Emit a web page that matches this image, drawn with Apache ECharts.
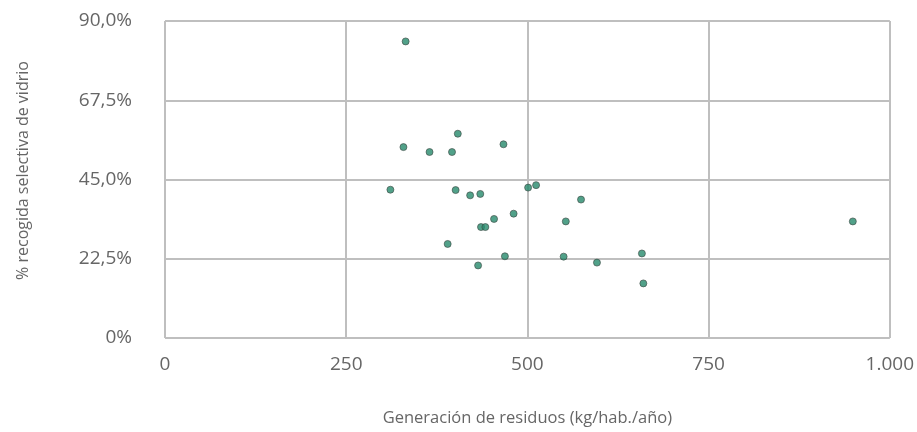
<!DOCTYPE html>
<html>
<head>
<meta charset="utf-8">
<script src="https://cdn.jsdelivr.net/npm/echarts@6/dist/echarts.min.js"></script>
<style>
  html, body { margin: 0; padding: 0; background: #fff; }
  #chart { width: 917px; height: 432px; }
</style>
</head>
<body>
<div id="chart"></div>
<script>
// Generación de residuos (kg/hab./año) por territorio
const residuos = [332, 329, 365, 396, 404, 467, 311, 401, 421, 435, 501, 512, 481, 454, 436, 442, 390, 469, 432, 574, 553, 949, 550, 658, 596, 660];
// % recogida selectiva de vidrio
const vidrio = [84.2, 54.2, 52.8, 52.8, 58.0, 55.0, 42.1, 42.0, 40.5, 40.9, 42.7, 43.4, 35.3, 33.8, 31.5, 31.5, 26.7, 23.2, 20.6, 39.3, 33.1, 33.1, 23.1, 24.0, 21.4, 15.5];

const xTitle = 'Generación de residuos (kg/hab./año)';
const yTitle = '% recogida selectiva de vidrio';

const points = residuos.map((v, i) => [v, vidrio[i]]);

// Spanish number formatting: thousands with '.', decimals with ','
const fmtX = v => v >= 1000 ? Math.floor(v / 1000) + '.' + String(v % 1000).padStart(3, '0') : String(v);
const fmtY = v => v === 0 ? '0%' : v.toFixed(1).replace('.', ',') + '%';

const font = '"Open Sans", "Noto Sans", sans-serif';
const gridColor = '#bfbfbf';
const textColor = '#666666';

const chart = echarts.init(document.getElementById('chart'), null, { renderer: 'canvas' });
chart.setOption({
  animation: false,
  backgroundColor: '#ffffff',
  grid: { left: 165, right: 26, top: 21, bottom: 93, show: true, borderColor: gridColor, borderWidth: 1 },
  xAxis: {
    type: 'value', min: 0, max: 1000, interval: 250,
    name: xTitle, nameLocation: 'middle', nameGap: 72,
    nameTextStyle: { color: textColor, fontSize: 16.5, fontFamily: font },
    axisLine: { show: false }, axisTick: { show: false },
    splitLine: { show: true, lineStyle: { color: gridColor, width: 2 } },
    axisLabel: { color: textColor, fontSize: 19, fontFamily: font, margin: 17, formatter: fmtX }
  },
  yAxis: {
    type: 'value', min: 0, max: 90, interval: 22.5,
    name: yTitle, nameLocation: 'middle', nameGap: 134, nameRotate: 90,
    nameTextStyle: { color: textColor, fontSize: 16, fontFamily: font, padding: [0, 0, 0, 18] },
    axisLine: { show: false }, axisTick: { show: false },
    splitLine: { show: true, lineStyle: { color: gridColor, width: 2 } },
    axisLabel: { color: textColor, fontSize: 19, fontFamily: font, margin: 33, formatter: fmtY }
  },
  series: [{
    type: 'scatter',
    data: points,
    symbol: 'circle',
    symbolSize: 7,
    itemStyle: { color: '#268a6c', borderColor: '#3f4a46', borderWidth: 0.8 }
  }]
});
</script>
</body>
</html>
